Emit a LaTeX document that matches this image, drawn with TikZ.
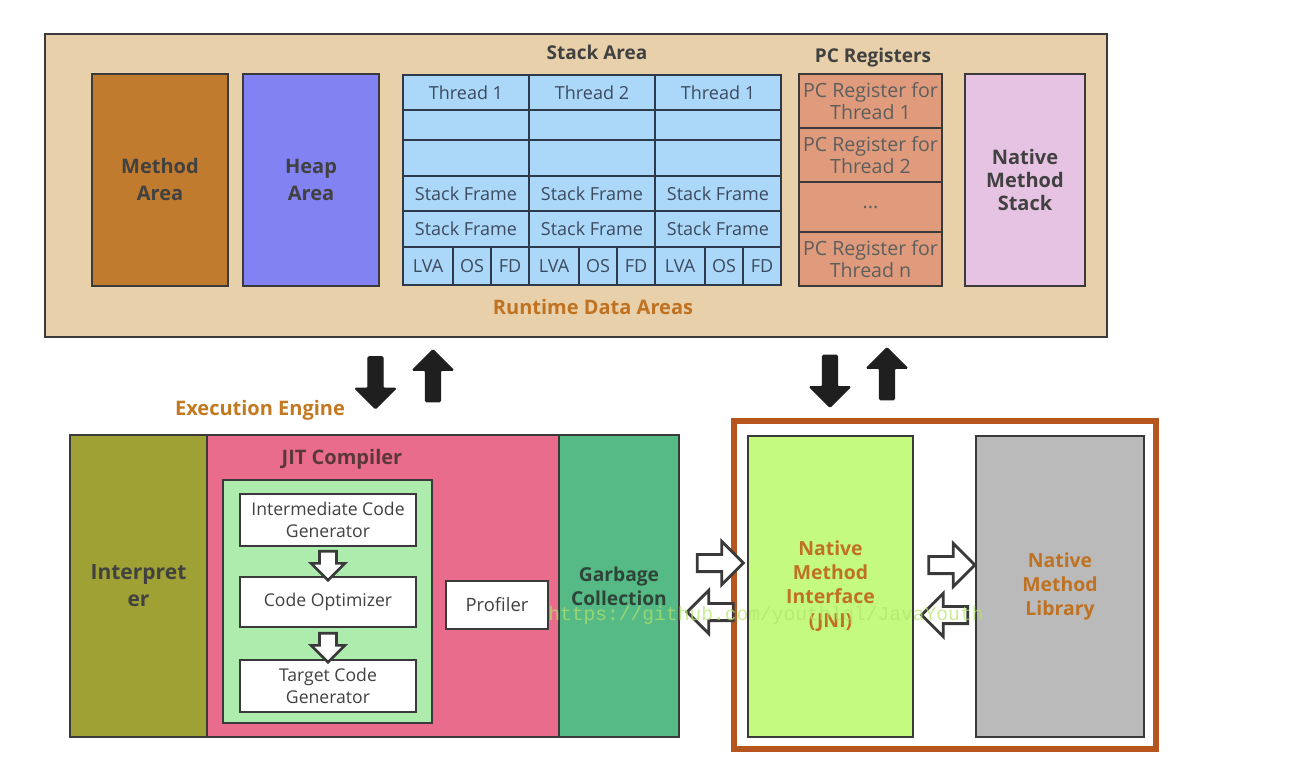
\documentclass[tikz,border=0pt]{standalone}
\usepackage{fontspec}
\setmainfont{Open Sans}
\setmonofont{Liberation Mono}
\usetikzlibrary{shapes.arrows,calc}

\definecolor{edge}{HTML}{3A3A3A}
\definecolor{tan}{HTML}{E8D0AA}
\definecolor{methodc}{HTML}{C07B2E}
\definecolor{heapc}{HTML}{8282F2}
\definecolor{stackc}{HTML}{ABD8F8}
\definecolor{stackedge}{HTML}{2E3A4C}
\definecolor{stacktext}{HTML}{3C4A60}
\definecolor{pcc}{HTML}{DF9B7B}
\definecolor{nstackc}{HTML}{E6C3E3}
\definecolor{interpc}{HTML}{A0A134}
\definecolor{jitc}{HTML}{EA6C8C}
\definecolor{jitin}{HTML}{AEECAE}
\definecolor{gcc}{HTML}{55BA86}
\definecolor{jnic}{HTML}{C4FA7E}
\definecolor{nmlc}{HTML}{BABABA}
\definecolor{frameor}{HTML}{B4561E}
\definecolor{ortext}{HTML}{BF7222}
\definecolor{dtext}{HTML}{414141}
\definecolor{jittext}{HTML}{5A3838}
\definecolor{gctext}{HTML}{2F4438}
\definecolor{marker}{HTML}{B4E46C}

% box from corner (x1,y1) to corner (x2,y2), coordinates in pixels
\newcommand\cellbox[7]{%
  \node[#1, minimum width={((#5)-(#3))*0.5pt}, minimum height={((#6)-(#4))*0.5pt}]
    (#2) at ({((#3)+(#5))/2},{((#4)+(#6))/2}) {#7};}

\begin{document}
\begin{tikzpicture}[x=0.5pt,y=-0.5pt,
  base/.style={draw=edge, line width=1.3pt, inner sep=0pt, align=center, rectangle},
  block/.style={base, text=dtext, font=\fontsize{10}{13.5}\selectfont\bfseries},
  cell/.style={base, draw=stackedge, line width=1.2pt, fill=stackc, text=stacktext,
               font=\fontsize{9}{11}\selectfont},
  pcell/.style={base, fill=pcc, text=dtext!85, font=\fontsize{9.8}{11}\selectfont},
  wbox/.style={base, fill=white, text=dtext, font=\fontsize{8.8}{11}\selectfont},
  title/.style={text=dtext, font=\fontsize{9.5}{11}\selectfont\bfseries, inner sep=0pt},
  otitle/.style={text=ortext, font=\fontsize{10}{12}\selectfont\bfseries, inner sep=0pt},
  olabel/.style={block, text=ortext, font=\fontsize{9.7}{12}\selectfont\bfseries},
  bigarrow/.style={single arrow, draw=black!88, fill=black!88, line width=0.6pt,
                   inner sep=3.5pt, single arrow head extend=6.5pt,
                   rounded corners=0.6pt, minimum height=26pt},
  hollow/.style={single arrow, draw=edge, fill=white, line width=1.4pt,
                 inner sep=3.6pt, single arrow head extend=6.5pt, minimum height=23pt},
  smallhollow/.style={single arrow, draw=edge, fill=white, line width=1.3pt,
                 inner sep=3.6pt, single arrow head extend=4.2pt, minimum height=14.5pt},
]
\useasboundingbox (0,0) rectangle (1300,774);
\fill[white] (0,0) rectangle (1300,774);

% ---------------- runtime data areas ----------------
\cellbox{base, fill=tan, line width=1.2pt}{rda}{45}{34}{1107}{337}{}
\cellbox{block, fill=methodc}{method}{92}{74}{228}{286}{Method\\Area}
\cellbox{block, fill=heapc}{heap}{243}{74}{379}{286}{Heap\\Area}

\node[title] (satitle) at (597,52) {Stack Area};
\foreach \c/\xa/\xb/\t in {1/403/529/Thread 1, 2/529/655/Thread 2, 3/655/781/Thread 1}{
  \cellbox{cell}{th\c}{\xa}{75}{\xb}{110}{\t}
  \cellbox{cell}{ea\c}{\xa}{110}{\xb}{140}{}
  \cellbox{cell}{eb\c}{\xa}{140}{\xb}{176}{}
  \cellbox{cell}{sfa\c}{\xa}{176}{\xb}{211}{Stack Frame}
  \cellbox{cell}{sfb\c}{\xa}{211}{\xb}{247}{Stack Frame}
  \cellbox{cell}{lva\c}{\xa}{247}{\xa+50}{285}{LVA}
  \cellbox{cell}{os\c}{\xa+50}{247}{\xa+88}{285}{OS}
  \cellbox{cell}{fd\c}{\xa+88}{247}{\xb}{285}{FD}
}

\node[title] (pctitle) at (873,58) {PC Registers};
\cellbox{pcell}{pca}{799}{74}{942}{128}{PC Register for\\Thread 1}
\cellbox{pcell}{pcb}{799}{128}{942}{182}{PC Register for\\Thread 2}
\cellbox{pcell}{pcc}{799}{182}{942}{232}{...}
\cellbox{pcell}{pcd}{799}{232}{942}{286}{PC Register for\\Thread n}

\cellbox{block, fill=nstackc, font=\fontsize{10}{11.5}\selectfont\bfseries}{nstack}{965}{74}{1085}{286}{Native\\Method\\Stack}

\node[otitle] (rdatitle) at (593,307) {Runtime Data Areas};

% ---------------- arrows between the two halves ----------------
\node[bigarrow, shape border rotate=270] (downa) at (375.5,379) {};
\node[bigarrow, shape border rotate=90]  (upa)   at (433,379.5) {};
\node[bigarrow, shape border rotate=270] (downb) at (830,377.5) {};
\node[bigarrow, shape border rotate=90]  (upb)   at (887,377.5) {};

\node[otitle, text=ortext!95!yellow] (eetitle) at (260,410) {Execution Engine};

% ---------------- execution engine ----------------
\cellbox{block, fill=interpc, font=\fontsize{10.5}{13.5}\selectfont\bfseries}{interp}{70}{435}{207}{737}{Interpret\\er}
\cellbox{block, fill=jitc}{jit}{207}{435}{559}{737}{}
\cellbox{block, fill=gcc, text=gctext, font=\fontsize{9.6}{12}\selectfont\bfseries}{gc}{559}{435}{679}{737}{Garbage\\Collection}

\node[title, font=\fontsize{10}{12}\selectfont\bfseries, text=jittext] (jittitle) at (342,459) {JIT Compiler};
\cellbox{base, fill=jitin}{jitin}{223}{480}{432}{723}{}
\cellbox{wbox}{icg}{240}{494}{416}{546}{Intermediate Code\\Generator}
\cellbox{wbox}{opt}{240}{577}{416}{627}{Code Optimizer}
\cellbox{wbox}{tcg}{240}{660}{416}{712}{Target Code\\Generator}
\cellbox{wbox, font=\fontsize{9.2}{11}\selectfont}{prof}{446}{581}{548}{629}{Profiler}

\node[smallhollow, shape border rotate=270] (icgopt) at ($(icg.south)!0.5!(opt.north)$) {};
\node[smallhollow, shape border rotate=270] (opttcg) at ($(opt.south)!0.5!(tcg.north)$) {};

% ---------------- native side ----------------
\cellbox{base, draw=frameor, line width=2.6pt}{nframe}{734}{421}{1156}{749}{}
\cellbox{olabel, fill=jnic}{jni}{748}{436}{913}{737}{Native\\Method\\Interface\\(JNI)}
\cellbox{olabel, fill=nmlc}{nml}{976}{436}{1144}{737}{Native\\Method\\Library}

\node[hollow] (gcjni) at (716,563) {};
\node[hollow, shape border rotate=180] (jnigc) at (714.5,612) {};
\node[hollow] (jninml) at (947.5,565) {};
\node[hollow, shape border rotate=180] (nmljni) at (949,615) {};

% faint link text printed over the lower half
\node[anchor=base west, inner sep=0pt, text=marker, opacity=0.7,
      font=\fontsize{9.8}{11}\ttfamily] (link) at (548,620) {https://github.com/youthlql/JavaYouth};
\end{tikzpicture}
\end{document}
